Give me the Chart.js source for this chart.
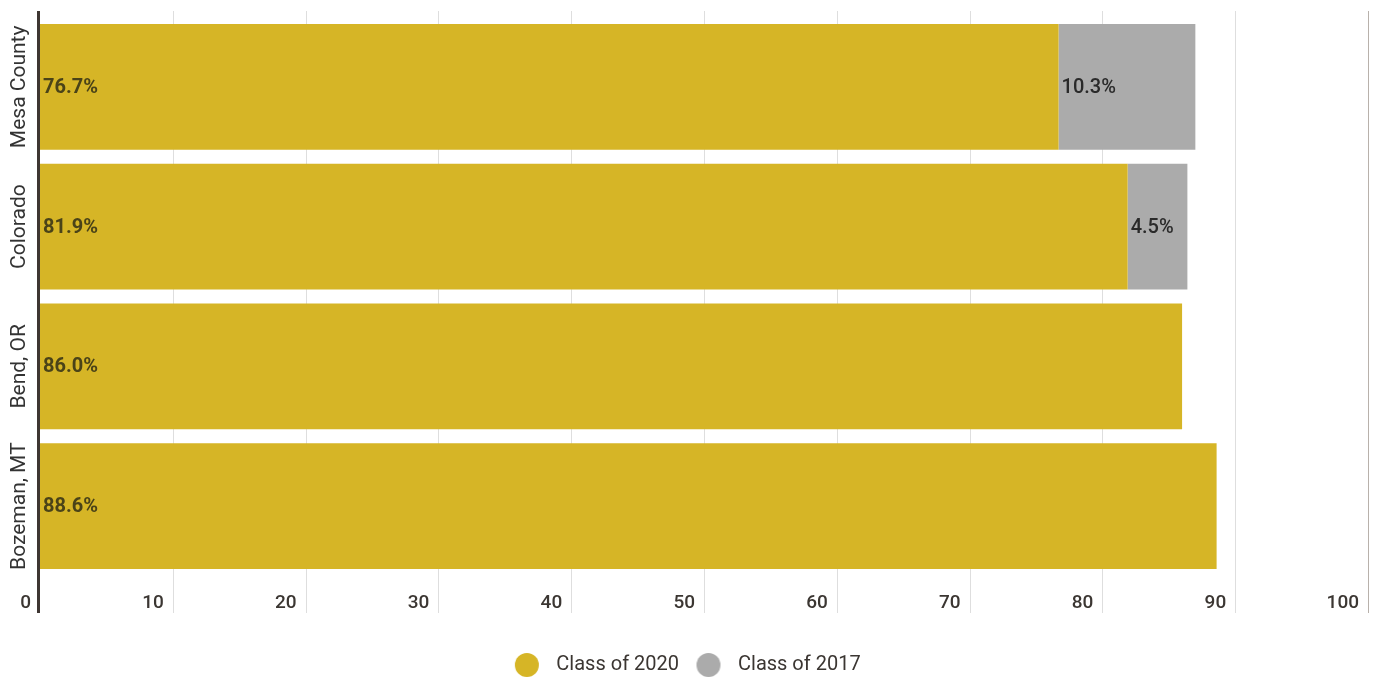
<!DOCTYPE html>
<html>
<head>
<meta charset="utf-8">
<script src="https://cdn.jsdelivr.net/npm/chart.js@4.4.1/dist/chart.umd.min.js"></script>
<style>
  html, body { margin: 0; padding: 0; background: #ffffff; }
  #wrap { width: 1374px; height: 680px; }
</style>
</head>
<body>
<div id="wrap"><canvas id="c" width="1374" height="680"></canvas></div>
<script>
const categories = ["Mesa County", "Colorado", "Bend, OR", "Bozeman, MT"];
const seriesNames = ["Class of 2020", "Class of 2017"];
const class2020 = [76.7, 81.9, 86.0, 88.6];
const class2017 = [10.3, 4.5, null, null];
const xTicks = [0, 10, 20, 30, 40, 50, 60, 70, 80, 90, 100];

const YELLOW = '#D6B526';
const GREY = '#ABABAB';
const FONT = 'Roboto, "Noto Sans", sans-serif';

function dotCanvas(color) {
  const c = document.createElement('canvas');
  c.width = 26; c.height = 26;
  const g = c.getContext('2d');
  g.fillStyle = color;
  g.beginPath(); g.arc(13, 13, 12, 0, Math.PI * 2); g.fill();
  return c;
}

const decorPlugin = {
  id: 'decor',
  beforeDatasetsDraw(chart) {
    const ctx = chart.ctx, xs = chart.scales.x;
    ctx.save();
    xTicks.forEach(v => {
      if (v === 0) return;
      const px = Math.round(xs.getPixelForValue(v)) + 0.5;
      ctx.strokeStyle = v === 100 ? '#b8b1ab' : '#dedede';
      ctx.lineWidth = 1;
      ctx.beginPath(); ctx.moveTo(px, 11); ctx.lineTo(px, 613); ctx.stroke();
    });
    ctx.restore();
  },
  afterDatasetsDraw(chart) {
    const ctx = chart.ctx, xs = chart.scales.x, ys = chart.scales.y;
    ctx.save();
    ctx.strokeStyle = '#3e3632';
    ctx.lineWidth = 3;
    const x0 = xs.getPixelForValue(0) - 1.5;
    ctx.beginPath(); ctx.moveTo(x0, 11); ctx.lineTo(x0, 613); ctx.stroke();
    ctx.fillStyle = '#333333';
    ctx.font = '21px ' + FONT;
    ctx.textAlign = 'center';
    ctx.textBaseline = 'alphabetic';
    categories.forEach((c, i) => {
      const py = ys.getPixelForValue(i);
      ctx.save();
      ctx.translate(25, py);
      ctx.rotate(-Math.PI / 2);
      ctx.fillText(c, 0, 0);
      ctx.restore();
    });
    ctx.textAlign = 'left';
    ctx.textBaseline = 'middle';
    chart.data.datasets.forEach((ds, di) => {
      const meta = chart.getDatasetMeta(di);
      meta.data.forEach((bar, i) => {
        const v = ds.data[i];
        if (v === null || v === undefined) return;
        if (di === 0) {
          ctx.font = 'bold 20px ' + FONT;
          ctx.fillStyle = '#4a4318';
        } else {
          ctx.font = '500 20px ' + FONT;
          ctx.fillStyle = '#2a2a2a';
        }
        ctx.fillText(v.toFixed(1) + '%', bar.base + 3, bar.y + 1);
      });
    });
    ctx.restore();
  }
};

new Chart(document.getElementById('c'), {
  type: 'bar',
  data: {
    labels: categories,
    datasets: [
      { label: seriesNames[0], data: class2020, backgroundColor: YELLOW, borderWidth: 0,
        categoryPercentage: 1.0, barPercentage: 0.9 },
      { label: seriesNames[1], data: class2017, backgroundColor: GREY, borderWidth: 0,
        categoryPercentage: 1.0, barPercentage: 0.9 }
    ]
  },
  options: {
    indexAxis: 'y',
    responsive: false,
    animation: false,
    devicePixelRatio: 1,
    layout: { padding: { top: 17, right: 6, bottom: -5, left: 0 } },
    scales: {
      x: {
        stacked: true,
        min: 0, max: 100,
        afterBuildTicks: (s) => { s.ticks = xTicks.map(v => ({ value: v })); },
        afterFit: (s) => { s.height = 69; s.paddingLeft = 0; s.paddingRight = 0; },
        grid: { display: false, drawTicks: false },
        border: { display: false },
        ticks: {
          align: 'end',
          labelOffset: -9,
          padding: 16,
          maxRotation: 0,
          autoSkip: false,
          color: '#3b3632',
          font: { family: FONT, size: 19, weight: '500' }
        }
      },
      y: {
        stacked: true,
        afterFit: (s) => { s.width = 40; },
        grid: { display: false },
        border: { display: false },
        ticks: { display: false }
      }
    },
    plugins: {
      tooltip: { enabled: false },
      legend: {
        position: 'bottom',
        labels: {
          usePointStyle: true,
          pointStyleWidth: 39,
          padding: 10,
          color: '#3b3632',
          font: { family: FONT, size: 20 },
          generateLabels: (chart) => {
            const items = Chart.defaults.plugins.legend.labels.generateLabels(chart);
            return items.map((it, i) => Object.assign(it, {
              pointStyle: dotCanvas(i === 0 ? YELLOW : GREY)
            }));
          }
        }
      }
    }
  },
  plugins: [decorPlugin]
});
</script>
</body>
</html>
